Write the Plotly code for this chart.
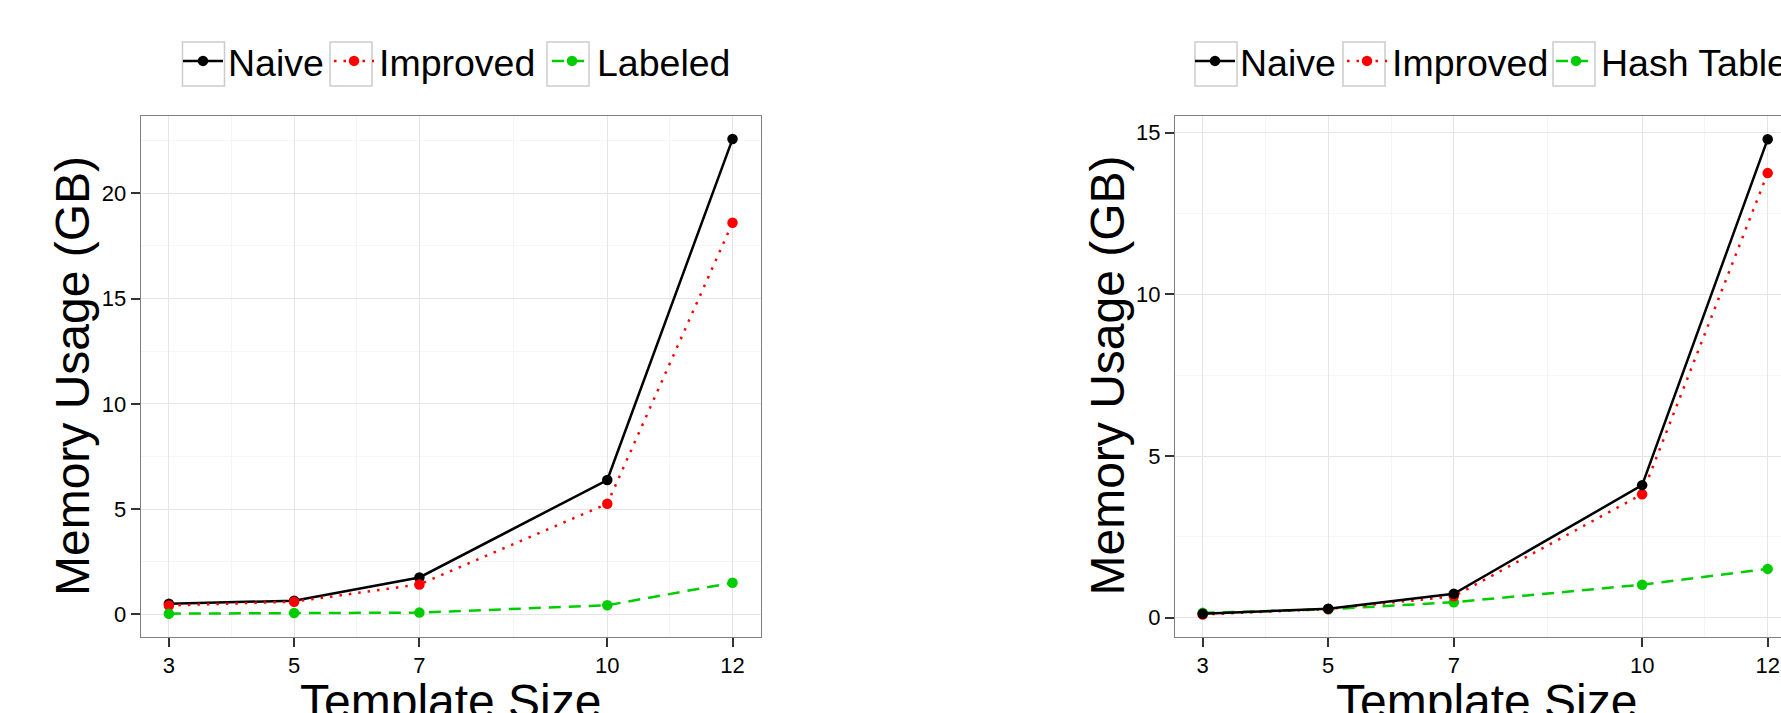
import plotly.graph_objects as go

# ---------------- data ----------------
template_sizes = [3, 5, 7, 10, 12]
x_ticks = [3, 5, 7, 10, 12]

left_naive = [0.50, 0.65, 1.75, 6.38, 22.58]
left_improved = [0.42, 0.60, 1.42, 5.25, 18.60]
left_labeled = [0.03, 0.06, 0.08, 0.43, 1.50]
left_yticks = [0, 5, 10, 15, 20]

right_naive = [0.12, 0.28, 0.74, 4.10, 14.80]
right_improved = [0.10, 0.27, 0.66, 3.82, 13.75]
right_hash = [0.15, 0.26, 0.48, 1.02, 1.51]
right_yticks = [0, 5, 10, 15]

series_names_left = ["Naive", "Improved", "Labeled"]
series_names_right = ["Naive", "Improved", "Hash Table"]

# ---------------- styling helpers ----------------
W, H = 1781, 713
FONT = "Liberation Sans, Arial, Helvetica, sans-serif"


def fx(px):
    return px / W


def fy(py):
    return 1 - py / H


colors = ["#000000", "#FF0000", "#00CD00"]
dashes = ["solid", "2.5px,7px", "12px,8px"]
legend_widths_left = [96, 163, 130]
legend_widths_right = [97, 154, 200]

fig = go.Figure()

left_series = [left_naive, left_improved, left_labeled]
right_series = [right_naive, right_improved, right_hash]

for i, (name, ys) in enumerate(zip(series_names_left, left_series)):
    fig.add_trace(go.Scatter(
        x=template_sizes, y=ys, name=name, mode="lines+markers",
        line=dict(color=colors[i], width=2.5, dash=dashes[i]),
        marker=dict(color=colors[i], size=10.5),
        xaxis="x", yaxis="y", legend="legend", cliponaxis=False,
        legendwidth=legend_widths_left[i], legendrank=i + 1,
    ))

# right panel: drawn in reverse so the Naive points sit on top
for i in [2, 1, 0]:
    fig.add_trace(go.Scatter(
        x=template_sizes, y=right_series[i], name=series_names_right[i], mode="lines+markers",
        line=dict(color=colors[i], width=2.5, dash=dashes[i]),
        marker=dict(color=colors[i], size=10.5),
        xaxis="x2", yaxis="y2", legend="legend2", cliponaxis=False,
        legendwidth=legend_widths_right[i], legendrank=i + 1,
    ))

axis_common = dict(
    ticks="outside", ticklen=9, tickwidth=2, tickcolor="#333333",
    showline=True, linecolor="#7F7F7F", linewidth=1.3,
    showgrid=True, gridcolor="#E5E5E5", gridwidth=1.3,
    zeroline=False, tickfont=dict(size=22, color="#000000", family=FONT),
    fixedrange=True,
)

minor_x = dict(tickvals=[4, 6, 8.5, 11], showgrid=True, gridcolor="#F5F5F5", gridwidth=1.3, ticks="")

legend_common = dict(orientation="h", xanchor="left", y=fy(61), yanchor="middle",
                     font=dict(size=37.5, family=FONT, color="#000000"), itemwidth=40,
                     bgcolor="rgba(0,0,0,0)", borderwidth=0, traceorder="normal")

fig.update_layout(
    width=W, height=H,
    margin=dict(l=0, r=0, t=0, b=0, autoexpand=False),
    paper_bgcolor="white", plot_bgcolor="white",
    font=dict(family=FONT, color="#000000"),
    showlegend=True,
    xaxis=dict(axis_common, domain=[fx(140.7), fx(760.7)], range=[2.55, 12.45],
               tickmode="array", tickvals=x_ticks, mirror=True, anchor="y",
               minor=minor_x),
    yaxis=dict(axis_common, domain=[fy(636.7), fy(115.7)], range=[-1.064, 23.69],
               tickmode="array", tickvals=left_yticks, mirror=True, anchor="x",
               minor=dict(tickvals=[2.5, 7.5, 12.5, 17.5, 22.5], showgrid=True,
                          gridcolor="#F5F5F5", gridwidth=1.3, ticks="")),
    xaxis2=dict(axis_common, domain=[fx(1175), 1.0], range=[2.559, 12.212],
                tickmode="array", tickvals=x_ticks, mirror=True, anchor="y2",
                minor=minor_x),
    yaxis2=dict(axis_common, domain=[fy(636.7), fy(115.7)], range=[-0.5876, 15.526],
                tickmode="array", tickvals=right_yticks, mirror=False, anchor="x2",
                minor=dict(tickvals=[2.5, 7.5, 12.5], showgrid=True,
                           gridcolor="#F5F5F5", gridwidth=1.3, ticks="")),
    legend=dict(legend_common, x=fx(178)),
    legend2=dict(legend_common, x=fx(1190)),
)

# axis titles as annotations
title_font = dict(size=48, family=FONT, color="#000000")
annotations = [
    dict(text="Memory Usage (GB)", x=fx(72), y=fy(376), xref="paper", yref="paper",
         textangle=-90, showarrow=False, xanchor="center", yanchor="middle", font=title_font),
    dict(text="Memory Usage (GB)", x=fx(1106.5), y=fy(376), xref="paper", yref="paper",
         textangle=-90, showarrow=False, xanchor="center", yanchor="middle", font=title_font),
    dict(text="Template Size", x=fx(450.7), y=fy(701), xref="paper", yref="paper",
         showarrow=False, xanchor="center", yanchor="middle", font=title_font),
    dict(text="Template Size", x=fx(1486), y=fy(701), xref="paper", yref="paper",
         showarrow=False, xanchor="center", yanchor="middle", font=title_font),
]
fig.update_layout(annotations=annotations)

# legend key boxes (ggplot style)
key_lefts = [182.5, 330, 547, 1195, 1343, 1553]
shapes = []
for kl in key_lefts:
    shapes.append(dict(type="rect", xref="paper", yref="paper",
                       x0=fx(kl), x1=fx(kl + 42), y0=fy(86), y1=fy(42),
                       line=dict(color="#CCCCCC", width=1.5), fillcolor="rgba(0,0,0,0)",
                       layer="above"))
fig.update_layout(shapes=shapes)

fig.write_html("out.html")
